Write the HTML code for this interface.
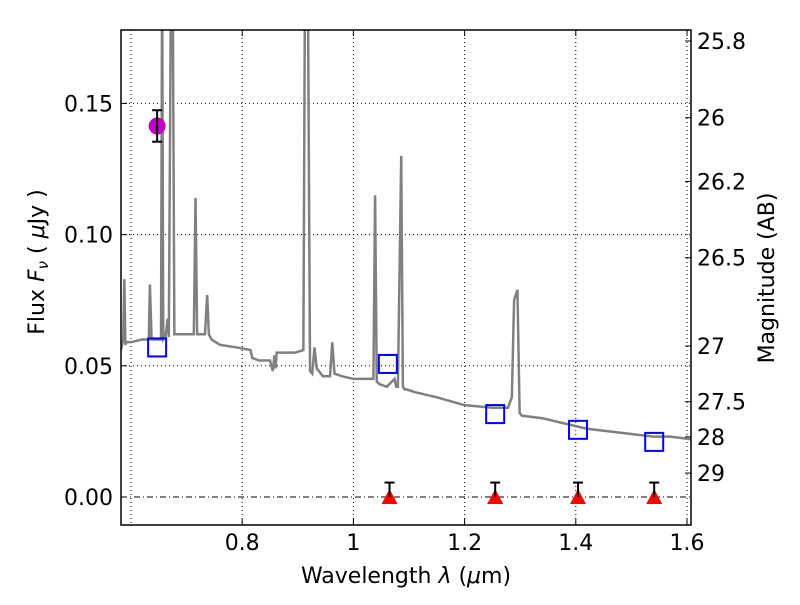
<!DOCTYPE html>
<html><head><meta charset="utf-8"><style>
body{margin:0;background:#fff;}
svg text{font-family:"DejaVu Sans","Liberation Sans",sans-serif;}
</style></head><body>
<svg id="chart" width="800" height="600" viewBox="0 0 800 600"></svg>
<script>
const specLam=[0.582,0.586,0.588,0.590,0.592,0.600,0.620,0.632,0.634,0.637,0.645,0.654,0.656,0.658,0.662,0.666,0.668,0.672,0.675,0.678,0.682,0.700,0.713,0.716,0.719,0.722,0.733,0.737,0.740,0.745,0.760,0.790,0.815,0.818,0.830,0.850,0.855,0.858,0.860,0.862,0.866,0.880,0.895,0.910,0.913,0.918,0.922,0.926,0.930,0.934,0.938,0.945,0.958,0.962,0.966,0.980,1.000,1.020,1.036,1.039,1.042,1.047,1.060,1.074,1.077,1.080,1.086,1.089,1.092,1.096,1.110,1.150,1.200,1.250,1.278,1.285,1.289,1.295,1.299,1.303,1.340,1.380,1.420,1.460,1.500,1.540,1.570,1.607];
const specFlux=[0.056,0.060,0.083,0.058,0.059,0.059,0.060,0.060,0.081,0.060,0.060,0.060,0.200,0.060,0.061,0.068,0.061,0.200,0.200,0.062,0.062,0.062,0.062,0.114,0.062,0.062,0.062,0.077,0.062,0.060,0.058,0.057,0.056,0.053,0.052,0.052,0.048,0.054,0.049,0.055,0.055,0.055,0.055,0.056,0.200,0.200,0.048,0.047,0.057,0.049,0.048,0.046,0.046,0.059,0.047,0.046,0.045,0.045,0.045,0.115,0.044,0.043,0.042,0.045,0.042,0.042,0.130,0.042,0.041,0.041,0.040,0.038,0.035,0.034,0.034,0.038,0.075,0.079,0.032,0.031,0.030,0.028,0.026,0.025,0.024,0.023,0.023,0.022];
const photLam=[0.647,1.062,1.255,1.404,1.541];
const photFlux=[0.057,0.0507,0.0316,0.0256,0.021];
const detLam=[0.647];const detFlux=[0.1414];const detErr=[0.006];
const limLam=[1.065,1.255,1.404,1.541];const limFlux=[0,0,0,0];const limErr=[0.0055,0.0055,0.0055,0.0055];
const xTicks=[0.8,1.0,1.2,1.4,1.6];const xTickLabels=["0.8","1","1.2","1.4","1.6"];
const yTicks=[0,0.05,0.10,0.15];const yTickLabels=["0.00","0.05","0.10","0.15"];
const magTicks=[25.8,26,26.2,26.5,27,27.5,28,29];const magTickLabels=["25.8","26","26.2","26.5","27","27.5","28","29"];
const L=121,R=691,T=30,B=525;
const X=v=>131+(v-0.6)*556;
const Y=v=>497-v*2624;
const NS="http://www.w3.org/2000/svg";
const svg=document.getElementById('chart');
function mk(t,a,p){const e=document.createElementNS(NS,t);for(const k in a)e.setAttribute(k,a[k]);(p||svg).appendChild(e);return e;}
const defs=mk('defs',{});const cp=mk('clipPath',{id:'c'},defs);mk('rect',{x:L,y:T,width:R-L,height:B-T},cp);
const g=mk('g',{'clip-path':'url(#c)'});

[0.6].concat(xTicks).forEach(v=>{const l=mk('line',{x1:X(v),x2:X(v),y1:T,y2:B,stroke:'#000','stroke-width':1,'stroke-dasharray':'1,3'},g);
});
yTicks.forEach(v=>{const l=mk('line',{x1:L,x2:R,y1:Y(v),y2:Y(v),stroke:'#000','stroke-width':1,'stroke-dasharray':v===0?'6,3,1,3':'1,3'},g);
});
const sp=mk('polyline',{points:specLam.map((v,i)=>X(v)+','+Y(specFlux[i])).join(' '),fill:'none',stroke:'#808080','stroke-width':2.5},g);

photLam.forEach((v,i)=>{const r=mk('rect',{x:X(v)-9,y:Y(photFlux[i])-9,width:18,height:18,fill:'none',stroke:'#0000ff','stroke-width':2},g);
});
function errbar(x,y0,y1,capBottom){mk('line',{x1:x,x2:x,y1:y0,y2:y1,stroke:'#000','stroke-width':2},g);
mk('line',{x1:x-5,x2:x+5,y1:y0,y2:y0,stroke:'#000','stroke-width':2},g);if(capBottom)mk('line',{x1:x-5,x2:x+5,y1:y1,y2:y1,stroke:'#000','stroke-width':2},g);}
detLam.forEach((v,i)=>{const c=mk('circle',{cx:X(v),cy:Y(detFlux[i]),r:8.5,fill:'#bf00bf'},g);

errbar(X(v),Y(detFlux[i]+detErr[i]),Y(detFlux[i]-detErr[i]),true);});
limLam.forEach((v,i)=>{const x=X(v),y=Y(limFlux[i]);
const p=mk('polygon',{points:`${x},${y-8} ${x-8},${y+7} ${x+8},${y+7}`,fill:'#ff0000'},g);

errbar(x,Y(limFlux[i]+limErr[i]),y,false);});
const fr=mk('rect',{x:L,y:T,width:R-L,height:B-T,fill:'none',stroke:'#000','stroke-width':1.5});

xTicks.forEach((v,i)=>{mk('line',{x1:X(v),x2:X(v),y1:B,y2:B-6,stroke:'#000'});mk('line',{x1:X(v),x2:X(v),y1:T,y2:T+6,stroke:'#000'});
const t=mk('text',{x:X(v),y:B+25,'text-anchor':'middle','font-size':22});t.textContent=xTickLabels[i];
});
yTicks.forEach((v,i)=>{mk('line',{x1:L,x2:L+6,y1:Y(v),y2:Y(v),stroke:'#000'});
const t=mk('text',{x:L-8,y:Y(v)+8,'text-anchor':'end','font-size':22});t.textContent=yTickLabels[i];
});
magTicks.forEach((m,i)=>{const y=Y(Math.pow(10,(23.9-m)/2.5));mk('line',{x1:R,x2:R-6,y1:y,y2:y,stroke:'#000'});
const t=mk('text',{x:R+6,y:y+8,'font-size':22});t.textContent=magTickLabels[i];
});
</script>
<svg width="800" height="600" style="position:absolute;left:0;top:0">
<text x="406" y="583" text-anchor="middle" font-size="22">Wavelength  <tspan font-style="italic">λ</tspan> (<tspan font-style="italic">μ</tspan>m)</text>
<text transform="translate(44,262) rotate(-90)" text-anchor="middle" font-size="22">Flux  <tspan font-style="italic">F<tspan font-size="15" dy="4">ν</tspan></tspan><tspan dy="-4">  (  </tspan><tspan font-style="italic">μ</tspan>Jy )</text>
<text transform="translate(774,278) rotate(-90)" text-anchor="middle" font-size="22">Magnitude (AB)</text>
</svg>
</body></html>
